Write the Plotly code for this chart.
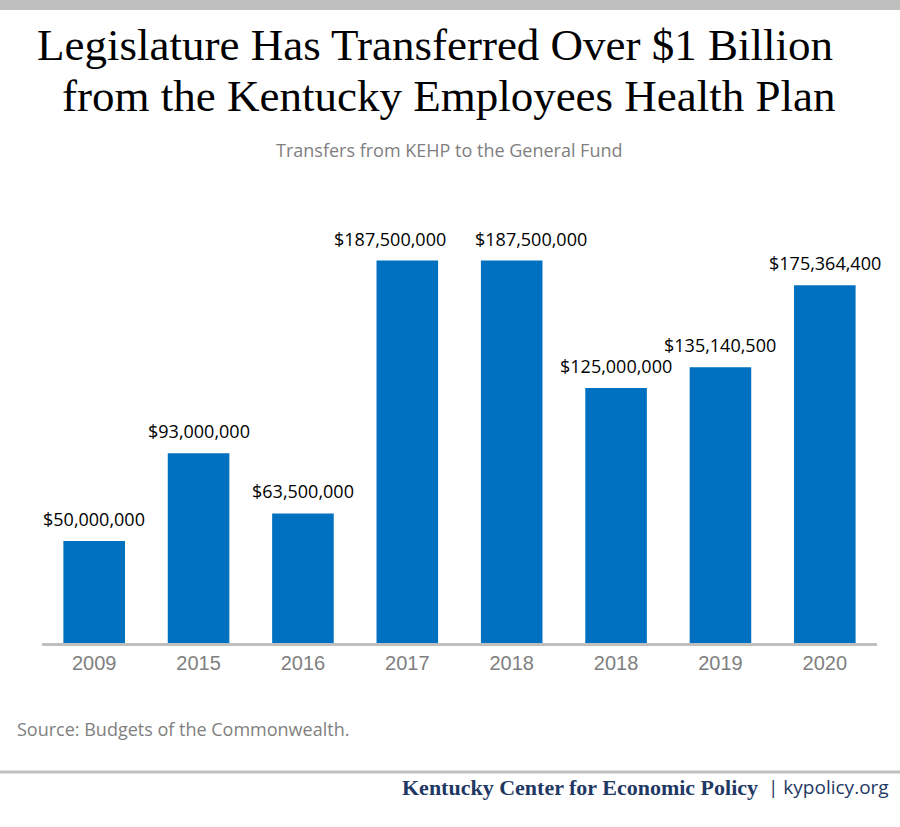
import plotly.graph_objects as go

years = ["2009", "2015", "2016", "2017", "2018", "2018", "2019", "2020"]
transfers = [50000000, 93000000, 63500000, 187500000, 187500000, 125000000, 135140500, 175364400]
positions = list(range(len(years)))
# horizontal nudges (px) of the value labels, as in the original, to keep the two 187.5M labels apart
label_shift = [0, 0, 0, -17, 19, 0, 0, 0]

W, H = 900, 827
L, R, T, B = 42, 23, 180, 184
PW, PH = W - L - R, H - T - B
def px(x):
    return (x - L) / PW
def py(y):
    return (H - B - y) / PH

fig = go.Figure()
fig.add_trace(go.Bar(
    x=positions, y=transfers,
    marker=dict(color="#0070C0", line=dict(width=0)),
    hoverinfo="skip",
))

fig.update_layout(
    width=W, height=H,
    margin=dict(l=L, r=R, t=T, b=B),
    paper_bgcolor="white", plot_bgcolor="white",
    bargap=0.41, showlegend=False,
    xaxis=dict(tickmode="array", tickvals=positions, ticktext=years,
               range=[-0.5, len(years) - 0.5],
               showline=True, linecolor="#BFBFBF", linewidth=2.5,
               showgrid=False, zeroline=False, ticks="",
               tickfont=dict(family="Liberation Sans", size=20, color="#7F7F7F")),
    yaxis=dict(range=[0, 227000000], visible=False, showgrid=False, zeroline=False),
)

shapes = [
    dict(type="rect", xref="paper", yref="paper", x0=px(0), x1=px(W), y0=py(10), y1=py(0),
         fillcolor="#BFBFBF", line=dict(width=0), layer="above"),
    dict(type="line", xref="paper", yref="paper", x0=px(0), x1=px(W), y0=py(772), y1=py(772),
         line=dict(color="#BFBFBF", width=3)),
]
fig.update_layout(shapes=shapes)

ann = [
    dict(text="Legislature Has Transferred Over $1 Billion", x=px(435), y=py(45),
         font=dict(family="Liberation Serif", size=45, color="#000000")),
    dict(text="from the Kentucky Employees Health Plan", x=px(449), y=py(96),
         font=dict(family="Liberation Serif", size=45, color="#000000")),
    dict(text="Transfers from KEHP to the General Fund", x=px(449), y=py(150),
         font=dict(family="Open Sans", size=18, color="#7F7F7F")),
    dict(text="Source: Budgets of the Commonwealth.", x=px(15), y=py(729), xanchor="left",
         font=dict(family="Open Sans", size=18, color="#7F7F7F")),
    dict(text="<b>Kentucky Center for Economic Policy</b>", x=px(760), y=py(787), xanchor="right",
         font=dict(family="Liberation Serif", size=22, color="#1F3864")),
    dict(text="| kypolicy.org", x=px(766), y=py(787), xanchor="left",
         font=dict(family="Open Sans", size=19, color="#1F3864")),
]
for a in ann:
    a.setdefault("xanchor", "center")
    a.update(xref="paper", yref="paper", yanchor="middle", showarrow=False)

for xp, v, s in zip(positions, transfers, label_shift):
    ann.append(dict(x=xp, y=v, xref="x", yref="y", text=f"${v:,.0f}",
                    xanchor="center", yanchor="bottom", xshift=s, yshift=8,
                    showarrow=False,
                    font=dict(family="Open Sans", size=18, color="#000000")))
fig.update_layout(annotations=ann)

fig.write_html("out.html")
